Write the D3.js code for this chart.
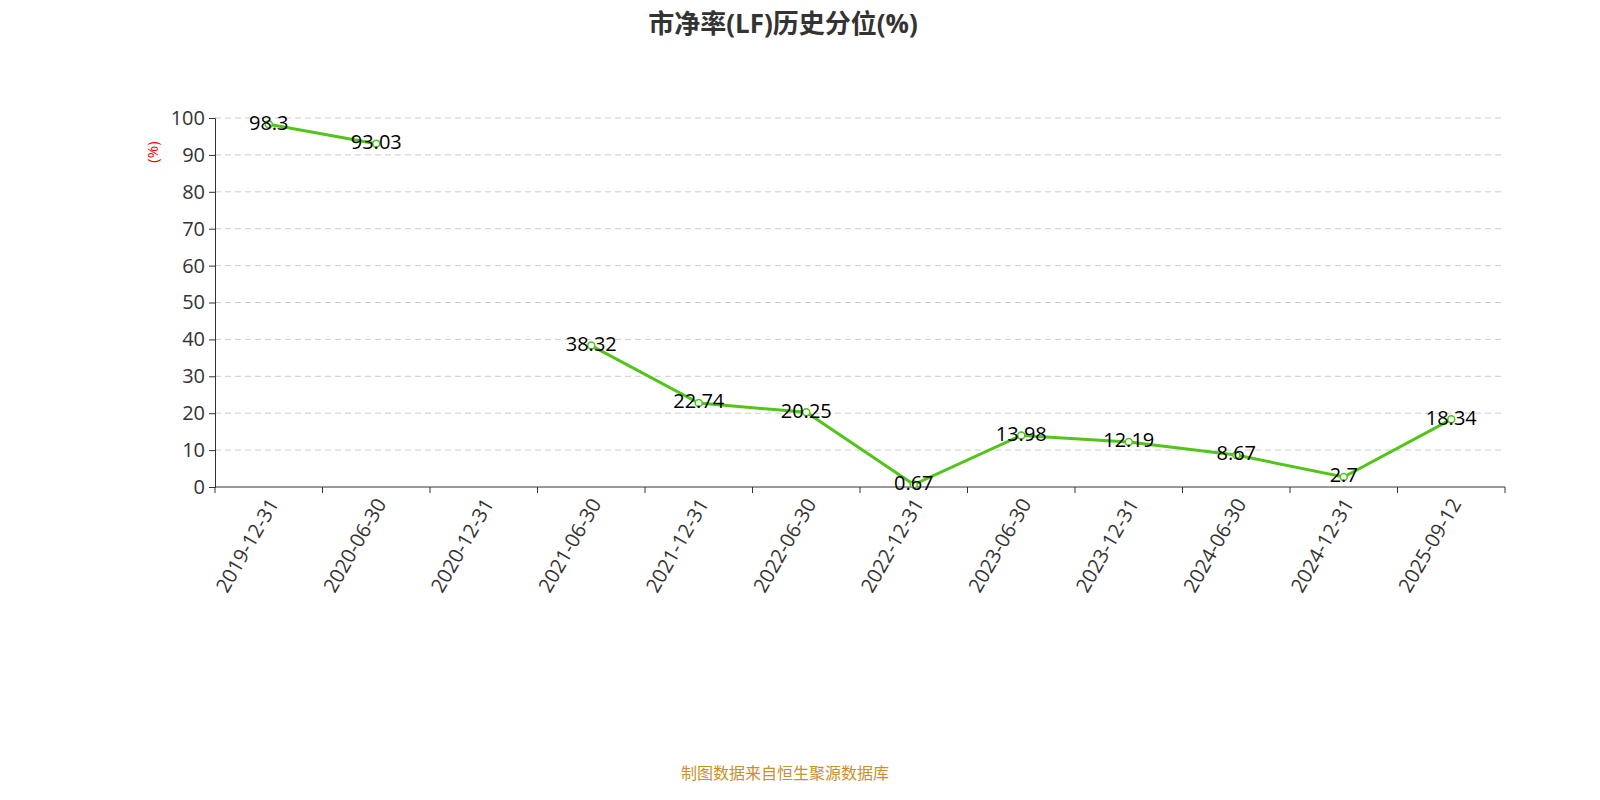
<!DOCTYPE html>
<html>
<head>
<meta charset="utf-8">
<script src="https://d3js.org/d3.v7.min.js"></script>
<style>
  body { margin: 0; background: #fff; }
  text { font-family: "Open Sans", "Noto Sans CJK SC", sans-serif; }
</style>
</head>
<body>
<script>
// chart data
var dates = ["2019-12-31", "2020-06-30", "2020-12-31", "2021-06-30", "2021-12-31", "2022-06-30",
             "2022-12-31", "2023-06-30", "2023-12-31", "2024-06-30", "2024-12-31", "2025-09-12"];
var values = [98.3, 93.03, null, 38.32, 22.74, 20.25, 0.67, 13.98, 12.19, 8.67, 2.7, 18.34];
var yTicks = [0, 10, 20, 30, 40, 50, 60, 70, 80, 90, 100];

var width = 1600, height = 800;
var margin = {left: 215, right: 95, top: 118, bottom: 313};

var svg = d3.select("body").append("svg")
    .attr("width", width)
    .attr("height", height);

var x = d3.scaleBand()
    .domain(dates)
    .range([margin.left, width - margin.right]);

var y = d3.scaleLinear()
    .domain([0, 100])
    .range([height - margin.bottom, margin.top]);

// title
svg.append("text")
    .attr("x", 783).attr("y", 33)
    .attr("text-anchor", "middle")
    .attr("font-size", 26).attr("font-weight", "bold")
    .attr("fill", "#333")
    .text("市净率(LF)历史分位(%)");

// grid lines
svg.append("g")
    .selectAll("line")
    .data(yTicks.filter(function(d) { return d > 0; }))
    .enter().append("line")
    .attr("x1", margin.left).attr("x2", width - margin.right)
    .attr("y1", function(d) { return y(d); })
    .attr("y2", function(d) { return y(d); })
    .attr("stroke", "#ccc")
    .attr("stroke-dasharray", "6,4");

// y axis
var yAxis = svg.append("g")
    .attr("transform", "translate(" + margin.left + ",0)")
    .call(d3.axisLeft(y).tickValues(yTicks).tickSize(6).tickPadding(4));
yAxis.selectAll("text").attr("font-size", 20).attr("fill", "#333");
yAxis.selectAll("line, path").attr("stroke", "#333");

svg.append("text")
    .attr("transform", "translate(158,152) rotate(-90)")
    .attr("text-anchor", "middle")
    .attr("font-size", 15).attr("fill", "red")
    .text("(%)");

// x axis: ticks on band boundaries
var xAxisG = svg.append("g")
    .attr("transform", "translate(0," + y(0) + ")");
xAxisG.append("line")
    .attr("x1", margin.left).attr("x2", width - margin.right)
    .attr("stroke", "#333");
xAxisG.selectAll("line.tick")
    .data(d3.range(dates.length + 1))
    .enter().append("line")
    .attr("class", "tick")
    .attr("x1", function(i) { return margin.left + i * x.bandwidth(); })
    .attr("x2", function(i) { return margin.left + i * x.bandwidth(); })
    .attr("y2", 6)
    .attr("stroke", "#333");
xAxisG.selectAll("text")
    .data(dates)
    .enter().append("text")
    .attr("transform", function(d) {
        return "translate(" + (x(d) + x.bandwidth() / 2 + 6) + ",14) rotate(-60)";
    })
    .attr("text-anchor", "end")
    .attr("dominant-baseline", "middle")
    .attr("font-size", 20).attr("fill", "#333")
    .text(function(d) { return d; });

// line
var pts = dates.map(function(d, i) { return {date: d, value: values[i]}; });
var line = d3.line()
    .defined(function(d) { return d.value != null; })
    .x(function(d) { return x(d.date) + x.bandwidth() / 2; })
    .y(function(d) { return y(d.value); });

svg.append("path")
    .datum(pts)
    .attr("fill", "none")
    .attr("stroke", "#52c41a")
    .attr("stroke-width", 3)
    .attr("d", line);

var valid = pts.filter(function(d) { return d.value != null; });

svg.append("g").selectAll("circle")
    .data(valid)
    .enter().append("circle")
    .attr("cx", function(d) { return x(d.date) + x.bandwidth() / 2; })
    .attr("cy", function(d) { return y(d.value); })
    .attr("r", 3.5)
    .attr("fill", "#fff")
    .attr("stroke", "#52c41a")
    .attr("stroke-width", 1.5);

svg.append("g").selectAll("text")
    .data(valid)
    .enter().append("text")
    .attr("x", function(d) { return x(d.date) + x.bandwidth() / 2; })
    .attr("y", function(d) { return y(d.value); })
    .attr("text-anchor", "middle")
    .attr("dominant-baseline", "middle")
    .attr("font-size", 20).attr("fill", "#000")
    .text(function(d) { return d.value; });

// footer
svg.append("text")
    .attr("x", 785).attr("y", 779)
    .attr("text-anchor", "middle")
    .attr("font-size", 16).attr("fill", "#c8902a")
    .text("制图数据来自恒生聚源数据库");
</script>
</body>
</html>
